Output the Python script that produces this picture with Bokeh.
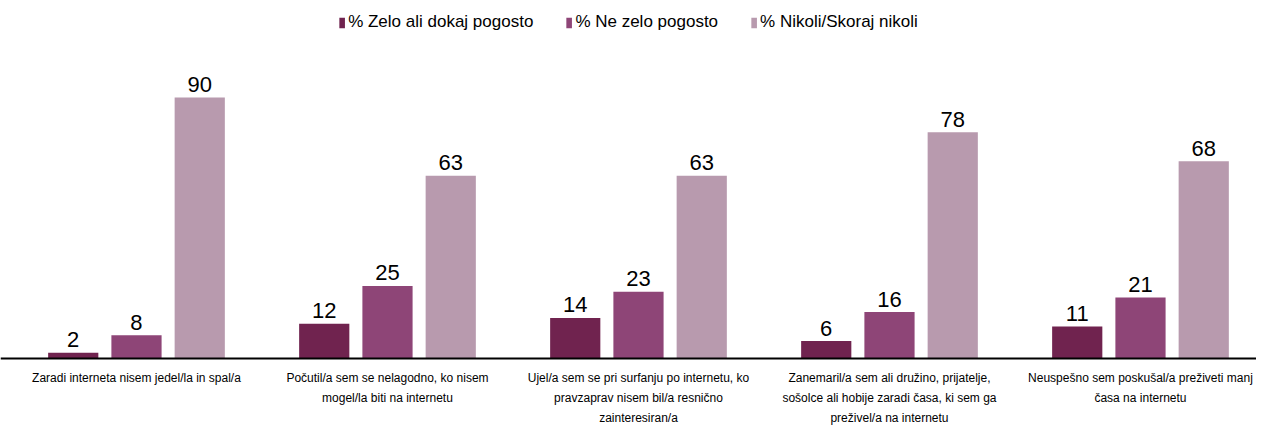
from bokeh.plotting import figure
from bokeh.models import ColumnDataSource, Span, Legend, LegendItem
from bokeh.core.properties import value
from bokeh.embed import file_html
from bokeh.resources import INLINE

categories = [
    "Zaradi interneta nisem jedel/la in spal/a",
    "Počutil/a sem se nelagodno, ko nisem\nmogel/la biti na internetu",
    "Ujel/a sem se pri surfanju po internetu, ko\npravzaprav nisem bil/a resnično\nzainteresiran/a",
    "Zanemaril/a sem ali družino, prijatelje,\nsošolce ali hobije zaradi časa, ki sem ga\npreživel/a na internetu",
    "Neuspešno sem poskušal/a preživeti manj\nčasa na internetu",
]
series_names = ["% Zelo ali dokaj pogosto", "% Ne zelo pogosto", "% Nikoli/Skoraj nikoli"]
zelo = [2, 12, 14, 6, 11]
ne_zelo = [8, 25, 23, 16, 21]
nikoli = [90, 63, 63, 78, 68]
colors = ["#70234F", "#8E4577", "#B89AAE"]

FONT = "Liberation Sans"

p = figure(width=1256, height=428, output_backend="svg", toolbar_location=None,
           x_range=(-0.5418, 4.4622), y_range=(-24.14, 123.45), min_border=0)
p.xaxis.visible = False
p.yaxis.visible = False
p.xgrid.visible = False
p.ygrid.visible = False
p.outline_line_color = None

offsets = [-0.252, 0.0, 0.252]
series = [zelo, ne_zelo, nikoli]
renderers = []
xs_all = list(range(len(categories)))
for vals, off, col in zip(series, offsets, colors):
    src = ColumnDataSource(dict(x=[i + off for i in xs_all], top=vals,
                                lbl=[str(v) for v in vals]))
    r = p.vbar(x="x", top="top", bottom=0, width=0.2, source=src,
               fill_color=col, line_color=None)
    renderers.append(r)
    p.text(x="x", y="top", text="lbl", source=src, text_align="center",
           text_baseline="alphabetic", y_offset=-13, text_font=value(FONT),
           text_font_size="22px", text_color="#000000")

p.add_layout(Span(location=0, dimension="width", line_color="black", line_width=2))

cat_src = ColumnDataSource(dict(x=xs_all, y=[-4.14] * len(categories), t=categories))
p.text(x="x", y="y", text="t", source=cat_src, text_align="center",
       text_baseline="top", text_font=value(FONT), text_font_size="12px",
       text_line_height=1.45, text_color="#000000")

legend = Legend(items=[LegendItem(label=n, renderers=[r]) for n, r in zip(series_names, renderers)],
                orientation="horizontal", location="top_center",
                border_line_color=None, background_fill_alpha=0,
                label_text_font=FONT, label_text_font_size="17px",
                label_text_color="#000000",
                glyph_width=7, glyph_height=13, spacing=32, label_standoff=3,
                margin=12, padding=2)
p.add_layout(legend)

open("out.html", "w").write(file_html(p, INLINE))
